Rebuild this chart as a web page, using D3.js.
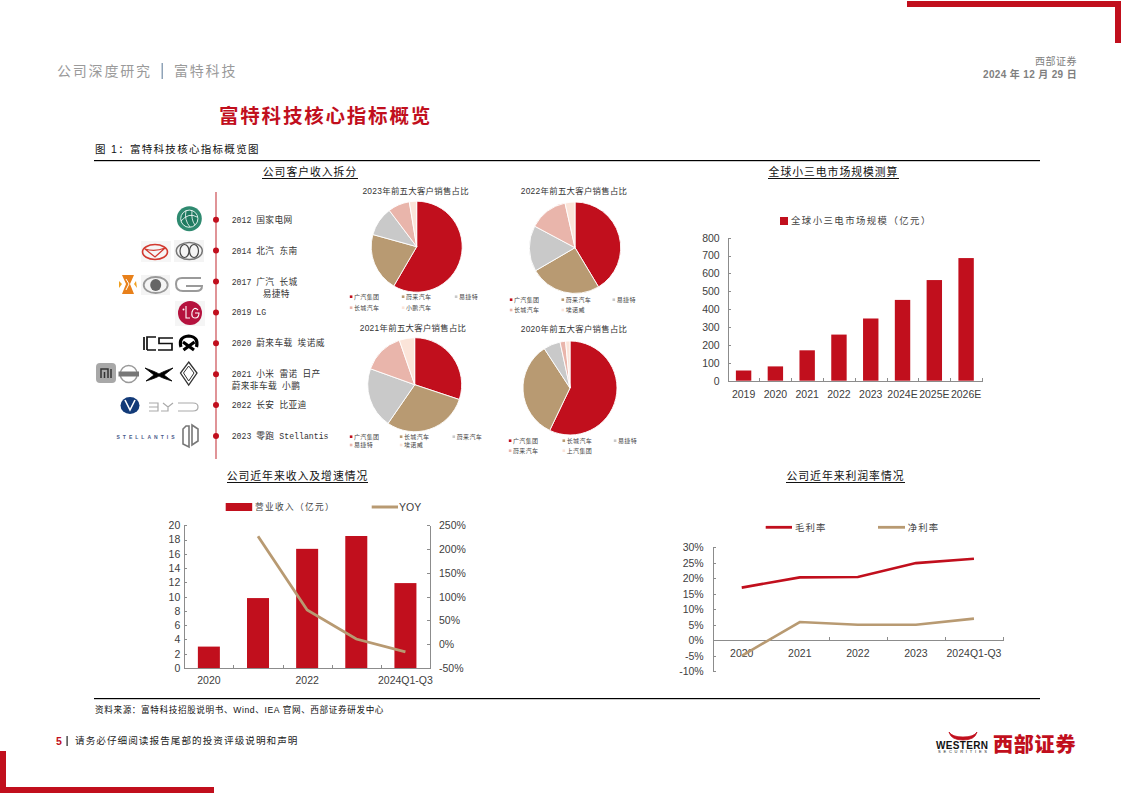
<!DOCTYPE html>
<html lang="zh"><head><meta charset="utf-8">
<script src="https://cdn.jsdelivr.net/npm/d3@7"></script>
<style>
html,body{margin:0;padding:0;background:#fff;overflow:hidden}
svg{display:block}
text{font-family:"Liberation Sans","Noto Sans CJK SC",sans-serif}
.axis path,.axis line{stroke:#8c8c8c;stroke-width:1;shape-rendering:crispEdges}
.axis text{font-size:10.5px;fill:#404040;font-family:"Liberation Sans",sans-serif}
</style></head><body><div id="chart"></div>
<script>
// ---------- data ----------
const RED="#c10f1d",TAN="#b89a72",GREY="#c9c9c9",PINK="#e9b5ab",PEACH="#fbe4d9";
const pieColors=[RED,TAN,GREY,PINK,PEACH];

const pie2023Names=["广汽集团","蔚来汽车","易捷特","长城汽车","小鹏汽车"];
const pie2023Values=[58.4,20.9,10.4,7.7,2.6];
const pie2022Names=["广汽集团","蔚来汽车","易捷特","长城汽车","埃诺威"];
const pie2022Values=[41.4,25.2,16.2,13.7,3.5];
const pie2021Names=["广汽集团","长城汽车","蔚来汽车","易捷特","埃诺威"];
const pie2021Values=[30.1,29.5,20.9,14.2,5.3];
const pie2020Names=["广汽集团","长城汽车","易捷特","蔚来汽车","上汽集团"];
const pie2020Values=[57.1,33.7,5.8,1.9,1.5];

const marketYears=["2019","2020","2021","2022","2023","2024E","2025E","2026E"];
const marketValues=[57,80,170,258,348,452,563,686];
const marketTicks=[0,100,200,300,400,500,600,700,800];

const revenuePeriods=["2020","2021","2022","2023","2024Q1-Q3"];
const revenueLabels=["2020","","2022","","2024Q1-Q3"];
const revenueValues=[3.0,9.8,16.7,18.5,11.9];
const yoyValues=[null,227,72,11,-16];
const revenueTicks=[0,2,4,6,8,10,12,14,16,18,20];
const yoyTicks=[-50,0,50,100,150,200,250];

const marginPeriods=["2020","2021","2022","2023","2024Q1-Q3"];
const grossMargin=[17.0,20.3,20.4,24.9,26.3];
const netMargin=[-5.0,5.9,5.0,5.0,7.0];
const marginTicks=[-10,-5,0,5,10,15,20,25,30];

const timelineLines=["2012 国家电网","2014 北汽 东南","2017 广汽 长城","2019 LG","2020 蔚来车载 埃诺威","2021 小米 雷诺 日产","2022 长安 比亚迪","2023 零跑 Stellantis"];
const timelineSecond={2:"易捷特",5:"蔚来非车载 小鹏"};

// ---------- page ----------
const svg=d3.select("#chart").append("svg").attr("width",1123).attr("height",794).attr("viewBox","0 0 1123 794");
function txt(x,y,s,size,fill,o={}){
  const t=svg.append("text").attr("x",x).attr("y",y).attr("dy","0.36em").attr("font-size",size).attr("fill",fill).text(s);
  if(o.anchor)t.attr("text-anchor",o.anchor);
  if(o.weight)t.attr("font-weight",o.weight);
  if(o.ls)t.attr("letter-spacing",o.ls);
  return t;
}
function rect(x,y,w,h,f){return svg.append("rect").attr("x",x).attr("y",y).attr("width",w).attr("height",h).attr("fill",f);}

// frame
rect(907,1,214,6,RED);rect(1115,1,6,42,RED);
rect(0,751,6,42,RED);rect(0,787,214,6,RED);

// header
txt(57,71,"公司深度研究",14,"#9a9a9a",{ls:1.8});
rect(161.5,63,1.5,16,"#8fa3b8");
txt(174,71,"富特科技",14,"#9a9a9a",{ls:1.8});
txt(1077,61,"西部证券",10,"#7f7f7f",{anchor:"end",ls:.5});
txt(1077,74,"2024 年 12 月 29 日",10,"#7f7f7f",{anchor:"end",weight:700,ls:.35});
txt(219,116,"富特科技核心指标概览",19.5,RED,{weight:700,ls:1.8});
txt(95,149,"图 1：富特科技核心指标概览图",10.5,"#111",{ls:1.3});
rect(94,160,946,1.2,"#000");
rect(94,698,946,1.2,"#000");
txt(95,709.5,"资料来源：富特科技招股说明书、Wind、IEA 官网、西部证券研发中心",8.6,"#111",{ls:.62});
txt(56,741,"5",10.5,RED,{weight:700});
rect(66.5,736,1.2,10,"#222");
txt(75,741,"请务必仔细阅读报告尾部的投资评级说明和声明",9.6,"#222",{ls:1.05});

// section titles
function sectionTitle(cx,y,s,w){
  txt(cx,y,s,10.8,"#111",{anchor:"middle",ls:1});
  rect(cx-w/2,y+6,w,1,"#111");
}
sectionTitle(310,172,"公司客户收入拆分",96);
sectionTitle(833.5,172,"全球小三电市场规模测算",131);
sectionTitle(297.5,476,"公司近年来收入及增速情况",141);
sectionTitle(845.5,476,"公司近年来利润率情况",119);

// ---------- timeline ----------
const tlY=d3.scalePoint().domain(timelineLines.map((d,i)=>i)).range([219.7,436]);
svg.append("line").attr("x1",216).attr("x2",216).attr("y1",192).attr("y2",459).attr("stroke","#cf5a60").attr("stroke-width",1.3);
function rich(x,y,s){
  const t=svg.append("text").attr("x",x).attr("y",y).attr("dy","0.36em").attr("font-size",8.5).attr("fill","#333");
  (s.match(/[\x00-\x7f]+|[^\x00-\x7f]+/g)||[]).forEach(r=>{
    const latin=/^[\x00-\x7f]/.test(r);
    t.append("tspan").text(r).attr("xml:space","preserve").style("white-space","pre")
     .attr("font-size",latin?8.2:8.7).attr("letter-spacing",latin?0:.4)
     .style("font-family",latin?'"Liberation Mono",monospace':'"Noto Sans CJK SC",sans-serif');
  });
}
timelineLines.forEach((s,i)=>{
  svg.append("circle").attr("cx",216).attr("cy",tlY(i)).attr("r",3).attr("fill",RED);
  rich(231.7,tlY(i),s);
  if(timelineSecond[i]) rich(i===2?262.7:231.7,tlY(i)+12,timelineSecond[i]);
});

// ---------- brand marks (decorative) ----------
function logos(){
  const g=svg.append("g").attr("fill","none");
  // state grid
  g.append("circle").attr("cx",189.3).attr("cy",218.7).attr("r",12.5).attr("fill","#2f8a70");
  g.append("circle").attr("cx",189.3).attr("cy",218.7).attr("r",8.6).attr("fill","#1f7a60").attr("stroke","#dff0ea").attr("stroke-width",1);
  g.append("path").attr("d","M181 221Q189 212 197 217M186 210.5Q184 220 190 227M192 210.5Q191 220 195 225").attr("stroke","#fff").attr("stroke-width",.8);
  // BAIC
  g.append("rect").attr("x",141).attr("y",241).attr("width",30).attr("height",21).attr("fill","#f6f6f6");
  g.append("ellipse").attr("cx",155).attr("cy",252).attr("rx",12.5).attr("ry",7.5).attr("stroke","#d23a30").attr("stroke-width",1.6);
  g.append("path").attr("d","M145 249Q155 252 165 248L155 257Z").attr("stroke","#d23a30").attr("stroke-width",1.3);
  // Soueast
  g.append("rect").attr("x",174).attr("y",240).attr("width",30).attr("height",22).attr("fill","#f4f4f4");
  g.append("ellipse").attr("cx",189.3).attr("cy",251).attr("rx",13).attr("ry",8.5).attr("stroke","#777").attr("stroke-width",1.5);
  g.append("ellipse").attr("cx",184.5).attr("cy",251).attr("rx",4.5).attr("ry",6.5).attr("stroke","#444").attr("stroke-width",1.2);
  g.append("ellipse").attr("cx",194).attr("cy",251).attr("rx",4.5).attr("ry",6.5).attr("stroke","#444").attr("stroke-width",1.2);
  // Envision-like orange
  g.append("path").attr("d","M122 275H134L130 284L134 294H122L126 284Z").attr("fill","#e8801a");
  g.append("path").attr("d","M119 281L122 284L119 288ZM136 281L137 288L134 284Z").attr("fill","#f0a020");
  g.append("path").attr("d","M126 279L129 284L126 290").attr("stroke","#fff").attr("stroke-width",1);
  // Great Wall
  g.append("rect").attr("x",141).attr("y",275).attr("width",29).attr("height",20).attr("fill","#f4f4f4");
  g.append("ellipse").attr("cx",155.7).attr("cy",285).attr("rx",12).attr("ry",8).attr("stroke","#999").attr("stroke-width",1.8);
  g.append("ellipse").attr("cx",155.7).attr("cy",285).attr("rx",5.5).attr("ry",6).attr("fill","#666");
  // GAC
  g.append("path").attr("d","M201 278H182Q176 278 176 284Q176 291 183 291H196Q202 291 202 286H186").attr("stroke","#9a9a9a").attr("stroke-width",2);
  // LG
  g.append("rect").attr("x",175).attr("y",301).attr("width",30).attr("height",25).attr("fill","#f5f5f5");
  g.append("circle").attr("cx",190).attr("cy",313).attr("r",12).attr("fill","#b5123e");
  g.append("path").attr("d","M186 306V318H190M198 310Q194 306 192 312Q191 318 195 318Q199 318 199 313H195").attr("stroke","#fff").attr("stroke-width",1.1);
  g.append("circle").attr("cx",183.5).attr("cy",309.5).attr("r",1).attr("fill","#fff");
  // ICS
  g.append("path").attr("d","M144 337V350M147 350V337H156M147 350H156M173 338H159V343.5H172V350H158").attr("stroke","#111").attr("stroke-width",1.7);
  // NIO
  g.append("path").attr("d","M181 347Q178 337 188.7 336Q199 337 196.5 347M183 342L194 350M194.5 342L183.5 350").attr("stroke","#000").attr("stroke-width",3.2);
  // Mi
  g.append("rect").attr("x",96).attr("y",363).attr("width",20).attr("height",20).attr("rx",4).attr("fill","#a8a8a8");
  g.append("path").attr("d","M101 378V369H108V378M104.5 372V378M111 369V378").attr("stroke","#333").attr("stroke-width",1.5);
  // Nissan
  g.append("circle").attr("cx",128.7).attr("cy",374).attr("r",8.5).attr("stroke","#999").attr("stroke-width",1.4);
  g.append("rect").attr("x",118.5).attr("y",371.5).attr("width",20.5).attr("height",5).attr("fill","#777");
  // XPeng
  g.append("path").attr("d","M145 368Q156 372 159 374Q162 372 173 368L164 375L172 381Q162 378 159 376Q156 378 146 381L154 375Z").attr("fill","#000").attr("stroke","#000").attr("stroke-width",.8);
  // Renault
  g.append("path").attr("d","M188.7 362L197 373L188.7 385L180.5 373Z").attr("stroke","#333").attr("stroke-width",1.3);
  g.append("path").attr("d","M188.7 366L194 373L188.7 381L183.5 373Z").attr("stroke","#333").attr("stroke-width",1);
  // Changan
  g.append("ellipse").attr("cx",130).attr("cy",405.5).attr("rx",9.5).attr("ry",8.5).attr("fill","#123a78");
  g.append("path").attr("d","M125 400L130 410L135 400").attr("stroke","#fff").attr("stroke-width",1.6);
  // BYD
  g.append("path").attr("d","M149 403H158V411H149M149 407H158M163 403L168 407L173 403M168 407V411H161M178 403H193Q198 403 198 407Q198 411 193 411H178").attr("stroke","#aaa").attr("stroke-width",1.2);
  // Stellantis
  svg.append("text").attr("x",116.5).attr("y",437.5).attr("dy","0.36em").attr("font-size",5).attr("font-weight",700).attr("fill","#4a5a8a").attr("textLength",58).text("STELLANTIS");
  // Leapmotor
  g.append("path").attr("d","M186 426L183 429V444L189 447V426ZM192 425L198 429V441L192 445Z").attr("stroke","#777").attr("stroke-width",1.6);
}
logos();

// ---------- pies ----------
function drawPie(o){
  const g=svg.append("g").attr("transform",`translate(${o.cx},${o.cy})`);
  const arcs=d3.pie().sort(null)(o.values);
  const arc=d3.arc().innerRadius(0).outerRadius(o.r);
  g.selectAll("path").data(arcs).join("path").attr("d",arc).attr("fill",(d,i)=>pieColors[i]).attr("stroke","#fff").attr("stroke-width",.9);
  txt(o.tx,o.ty,o.title,8.4,"#333",{anchor:"middle",ls:.3});
  o.names.forEach((n,i)=>{
    const col=i%3,row=i<3?0:1;
    const x=o.lx[col],y=o.ly[row];
    rect(x-4.2,y-1.3,2.6,2.6,pieColors[i]);
    txt(x,y,n,6,"#444",{ls:.35});
  });
}
drawPie({cx:416.7,cy:246.7,r:45.5,values:pie2023Values,names:pie2023Names,title:"2023年前五大客户销售占比",tx:415.7,ty:191,lx:[354,406,459],ly:[296.7,307.7]});
drawPie({cx:575,cy:247.7,r:45.7,values:pie2022Values,names:pie2022Names,title:"2022年前五大客户销售占比",tx:574,ty:191,lx:[514,565.7,616.7],ly:[299.7,310]});
drawPie({cx:414.7,cy:384.7,r:47,values:pie2021Values,names:pie2021Names,title:"2021年前五大客户销售占比",tx:413,ty:328.3,lx:[354,404,456.7],ly:[436.7,445]});
drawPie({cx:570,cy:388,r:47,values:pie2020Values,names:pie2020Names,title:"2020年前五大客户销售占比",tx:574,ty:329,lx:[513,566.7,618],ly:[440.7,450.7]});

// ---------- shared axis helpers ----------
function boundaryTicks(x0,x1,n,y){
  const s=d3.scaleLinear().domain([0,n]).range([x0,x1]);
  svg.append("g").attr("class","axis").attr("transform",`translate(0,${y})`)
    .call(d3.axisBottom(s).tickValues(d3.range(0,n+1)).tickFormat("").tickSizeInner(-3).tickSizeOuter(0));
}
function bandLabels(domain,labels,x0,x1,yAxis,yText){
  const s=d3.scaleBand().domain(domain).range([x0,x1]);
  const a=svg.append("g").attr("class","axis").attr("transform",`translate(0,${yText})`)
    .call(d3.axisBottom(s).tickSize(0).tickPadding(0).tickFormat((d,i)=>labels[i]));
  a.select(".domain").remove();
  a.selectAll("text").attr("dy","0.36em");
  return s;
}

// ---------- market bars ----------
{
  const x0=727.7,x1=982,y0=380.7,y1=237.7;
  const y=d3.scaleLinear().domain([0,800]).range([y0,y1]);
  const x=bandLabels(marketYears,marketYears,x0,x1,y0,394);
  svg.append("g").selectAll("rect").data(marketValues).join("rect")
    .attr("x",(d,i)=>x(marketYears[i])+x.bandwidth()/2-7.7).attr("width",15.4)
    .attr("y",d=>y(d)).attr("height",d=>y0-y(d)).attr("fill",RED);
  svg.append("g").attr("class","axis").attr("transform",`translate(${x0},0)`)
    .call(d3.axisLeft(y).tickValues(marketTicks).tickSizeInner(-3).tickSizeOuter(0).tickPadding(8));
  boundaryTicks(x0,x1,marketYears.length,y0);
  rect(780,217,8,8,RED);
  txt(791,221,"全球小三电市场规模（亿元）",9.4,"#444",{ls:1.45});
}

// ---------- revenue combo ----------
{
  const x0=184.3,x1=430,y0=668,y1=525.3;
  const y=d3.scaleLinear().domain([0,20]).range([y0,y1]);
  const yr=d3.scaleLinear().domain([-50,250]).range([y0,y1]);
  const x=bandLabels(revenuePeriods,revenueLabels,x0,x1,y0,680);
  svg.append("g").selectAll("rect").data(revenueValues).join("rect")
    .attr("x",(d,i)=>x(revenuePeriods[i])+x.bandwidth()/2-11).attr("width",22)
    .attr("y",d=>y(d)).attr("height",d=>y0-y(d)).attr("fill",RED);
  svg.append("g").attr("class","axis").attr("transform",`translate(${x0},0)`)
    .call(d3.axisLeft(y).tickValues(revenueTicks).tickSizeInner(-3).tickSizeOuter(0).tickPadding(4));
  svg.append("g").attr("class","axis").attr("transform",`translate(${x1},0)`)
    .call(d3.axisRight(yr).tickValues(yoyTicks).tickFormat(d=>d+"%").tickSizeInner(-3).tickSizeOuter(0).tickPadding(9));
  boundaryTicks(x0,x1,revenuePeriods.length,y0);
  const line=d3.line().defined(d=>d!==null).x((d,i)=>x(revenuePeriods[i])+x.bandwidth()/2).y(d=>yr(d));
  svg.append("path").attr("d",line(yoyValues)).attr("fill","none").attr("stroke",TAN).attr("stroke-width",2.8);
  rect(225.7,503,26.5,8,RED);
  txt(255,507,"营业收入（亿元）",8.7,"#444",{ls:1.3});
  svg.append("line").attr("x1",371.7).attr("x2",398).attr("y1",507).attr("y2",507).attr("stroke",TAN).attr("stroke-width",3);
  txt(399,507,"YOY",10.5,"#404040");
}

// ---------- margin lines ----------
{
  const x0=712.7,x1=1003,y1=547.3,y2=671.3;
  const y=d3.scaleLinear().domain([30,-10]).range([y1,y2]);
  const x=d3.scaleBand().domain(marginPeriods).range([x0,x1]);
  boundaryTicks(x0,x1,marginPeriods.length,y(0));
  svg.append("g").attr("class","axis").attr("transform",`translate(${x0},0)`)
    .call(d3.axisLeft(y).tickValues(marginTicks).tickFormat(d=>d+"%").tickSizeInner(-3).tickSizeOuter(0).tickPadding(9));
  bandLabels(marginPeriods,marginPeriods,x0,x1,y(0),653);
  const line=d3.line().x((d,i)=>x(marginPeriods[i])+x.bandwidth()/2).y(d=>y(d));
  svg.append("path").attr("d",line(grossMargin)).attr("fill","none").attr("stroke",RED).attr("stroke-width",2.6);
  svg.append("path").attr("d",line(netMargin)).attr("fill","none").attr("stroke",TAN).attr("stroke-width",2.6);
  svg.append("line").attr("x1",765.7).attr("x2",792).attr("y1",527.3).attr("y2",527.3).attr("stroke",RED).attr("stroke-width",2.8);
  txt(795,527.3,"毛利率",9.4,"#444",{ls:1.1});
  svg.append("line").attr("x1",878).attr("x2",905).attr("y1",527.3).attr("y2",527.3).attr("stroke",TAN).attr("stroke-width",2.8);
  txt(907.7,527.3,"净利率",9.4,"#444",{ls:1.1});
}

// ---------- footer brand ----------
svg.append("path").attr("d","M949 732Q951 740 963 740Q975 740 977 732Q974 737 963 737Q952 737 949 732Z").attr("fill",RED).attr("stroke",RED).attr("stroke-width",.8);
svg.append("text").attr("x",936).attr("y",745.5).attr("dy","0.36em").attr("font-size",10).attr("font-weight",700).attr("fill","#111").attr("textLength",52).text("WESTERN");
svg.append("text").attr("x",938).attr("y",751.5).attr("dy","0.36em").attr("font-size",4).attr("fill","#222").attr("textLength",49).text("SECURITIES");
txt(993,744.5,"西部证券",20,RED,{weight:900,ls:.8});
</script></body></html>
